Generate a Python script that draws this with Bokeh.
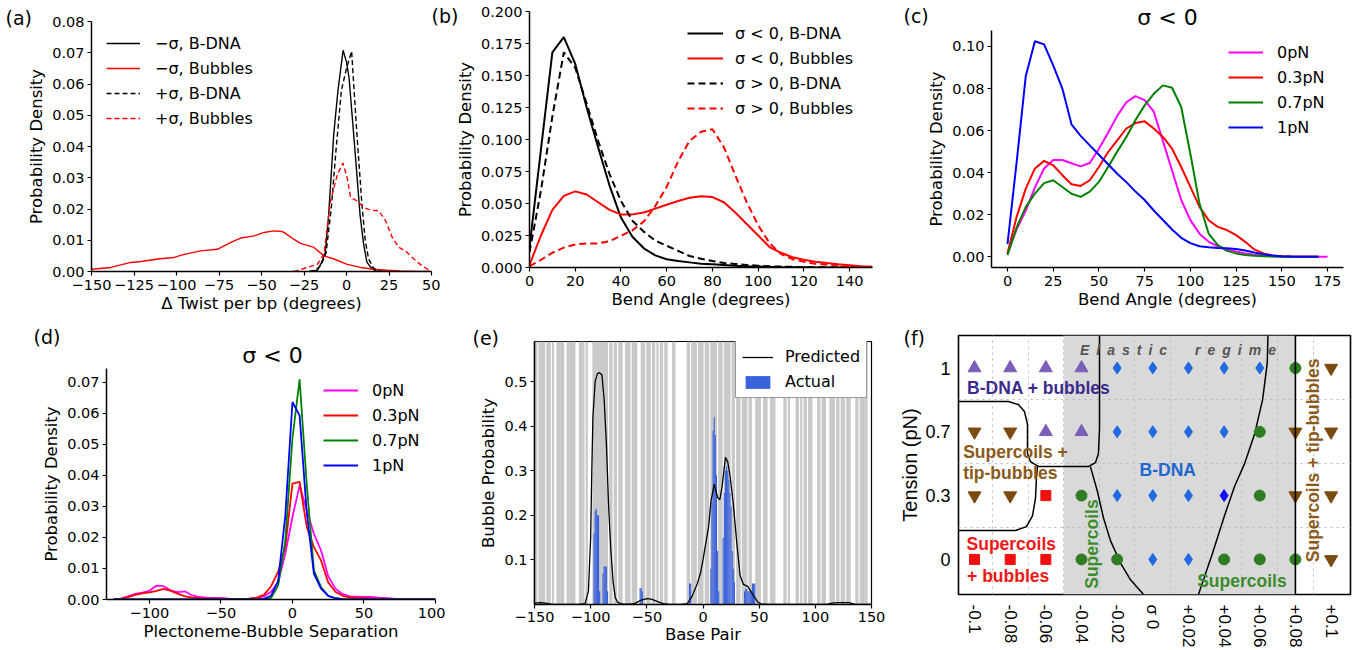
import numpy as np
from bokeh.plotting import figure
from bokeh.models import (Range1d, FixedTicker, Legend, LegendItem, Label,
                          BoxAnnotation, Span)
from bokeh.embed import file_html
from bokeh.resources import INLINE

# ======================= DATA =======================
# (a) Delta twist per bp
a_neg_bdna_x = [-20, -17, -15, -12.5, -10.5, -7.5, -5, -2, 0, 1.5, 4.5, 8, 10, 12, 14, 17, 20]
a_neg_bdna_y = [0, 0.0005, 0.0025, 0.006, 0.018, 0.044, 0.058, 0.0708, 0.067, 0.062, 0.042, 0.018, 0.009, 0.003, 0.0015, 0.0002, 0]
a_pos_bdna_x = [-22, -18, -15, -12, -9, -6, -3, 0, 3, 6, 9, 11, 13, 16, 19, 22]
a_pos_bdna_y = [0, 0.0005, 0.002, 0.006, 0.02, 0.04, 0.058, 0.065, 0.0705, 0.045, 0.022, 0.01, 0.004, 0.001, 0.0002, 0]
a_neg_bub_x = [-150, -138.6, -126.9, -121, -111, -101.4, -95.5, -85.8, -76, -68, -62.2, -54.4, -48.5, -42.7,
               -38, -36.8, -30.9, -27, -19.1, -13.3, -7.4, 0.4, 8.3, 16, 24, 31.8, 40, 50]
a_neg_bub_y = [0.0007, 0.0013, 0.0029, 0.0032, 0.004, 0.0045, 0.0055, 0.0066, 0.0071, 0.0093, 0.0107, 0.0114,
               0.0125, 0.013, 0.0128, 0.0125, 0.0103, 0.009, 0.0077, 0.005, 0.004, 0.0023, 0.0013, 0.0007,
               0.0004, 0.0002, 0.0001, 0.0]
a_pos_bub_x = [-31, -23, -17.2, -13.3, -9.4, -5.4, -2.1, 0.4, 2.4, 6.3, 10.2, 14.2, 19, 23, 26.9, 30.8, 34.7,
               39.6, 44.5, 49.4]
a_pos_bub_y = [0, 0.0013, 0.0023, 0.0055, 0.0226, 0.031, 0.0347, 0.030, 0.0237, 0.0226, 0.0205, 0.0196, 0.0194,
               0.0162, 0.0109, 0.0077, 0.0066, 0.004, 0.0018, 0.0002]
a_xticks = [-150, -125, -100, -75, -50, -25, 0, 25, 50]
a_xlabels = ["\u2212150", "\u2212125", "\u2212100", "\u221275", "\u221250", "\u221225", "0", "25", "50"]
a_yticks = [0, 0.01, 0.02, 0.03, 0.04, 0.05, 0.06, 0.07, 0.08]
a_ylabels = ["0.00", "0.01", "0.02", "0.03", "0.04", "0.05", "0.06", "0.07", "0.08"]
a_legend = ["\u2212\u03c3, B-DNA", "\u2212\u03c3, Bubbles", "+\u03c3, B-DNA", "+\u03c3, Bubbles"]

# (b) bend angle
b_x = [0, 5, 10, 15, 20, 25, 30, 35, 40, 45, 50, 55, 60, 65, 70, 75, 80, 85, 90, 95, 100,
       105, 110, 115, 120, 125, 130, 135, 140, 145, 150]
b_neg_bdna = [0.016, 0.092, 0.168, 0.180, 0.159, 0.125, 0.094, 0.064, 0.039, 0.024, 0.015, 0.0095, 0.0065,
              0.005, 0.004, 0.003, 0.0026, 0.002, 0.0014, 0.001, 0.0008, 0.0005, 0.0003, 0.0002, 0.0001,
              0, 0, 0, 0, 0, 0]
b_neg_bub = [0.002, 0.025, 0.045, 0.056, 0.0595, 0.057, 0.051, 0.045, 0.0415, 0.0415, 0.043, 0.046, 0.049,
             0.052, 0.0545, 0.0556, 0.055, 0.051, 0.043, 0.034, 0.025, 0.016, 0.0115, 0.008, 0.006, 0.0045,
             0.0035, 0.0026, 0.0018, 0.001, 0.0005]
b_pos_bdna = [0.012, 0.06, 0.118, 0.168, 0.156, 0.128, 0.099, 0.073, 0.052, 0.0365, 0.028, 0.021, 0.017,
              0.013, 0.009, 0.0068, 0.005, 0.0036, 0.0028, 0.002, 0.0014, 0.001, 0.0007, 0.0005, 0.0003,
              0.0002, 0.0001, 0, 0, 0, 0]
b_pos_bub = [0.001, 0.006, 0.0115, 0.0155, 0.018, 0.0188, 0.0188, 0.0205, 0.0248, 0.029, 0.036, 0.048, 0.063,
             0.083, 0.099, 0.106, 0.108, 0.094, 0.072, 0.051, 0.033, 0.019, 0.0105, 0.0065, 0.0045, 0.003,
             0.0022, 0.0015, 0.001, 0.0005, 0.0002]
b_xticks = [0, 20, 40, 60, 80, 100, 120, 140]
b_xlabels = ["0", "20", "40", "60", "80", "100", "120", "140"]
b_yticks = [0, 0.025, 0.05, 0.075, 0.1, 0.125, 0.15, 0.175, 0.2]
b_ylabels = ["0.000", "0.025", "0.050", "0.075", "0.100", "0.125", "0.150", "0.175", "0.200"]
b_legend = ["\u03c3 < 0, B-DNA", "\u03c3 < 0, Bubbles", "\u03c3 > 0, B-DNA", "\u03c3 > 0, Bubbles"]

# (c) bend angle vs tension, sigma < 0
c_x = [0, 5, 10, 15, 20, 25, 30, 35, 40, 45, 50, 55, 60, 65, 70, 75, 80, 85, 90, 95, 100, 105, 110,
       115, 120, 125, 130, 135, 140, 145, 150, 155, 160, 165, 170]
c_x_0pN = [0, 5, 10, 15, 20, 25, 30, 35, 40, 45, 50, 55, 60, 65, 70, 75, 80, 85, 90, 95, 100, 105, 110,
           115, 120, 125, 130, 135, 140, 145, 150, 155, 160, 165, 170, 175]
c_0pN = [0.0016, 0.013, 0.022, 0.033, 0.042, 0.046, 0.046, 0.0445, 0.043, 0.0446, 0.0514, 0.059, 0.067,
         0.0735, 0.0764, 0.0745, 0.069, 0.055, 0.041, 0.027, 0.0174, 0.011, 0.0071, 0.005, 0.0035, 0.0025,
         0.0016, 0.001, 0.0006, 0.0003, 0.0001, 0, 0, 0, 0, 0]
c_03pN = [0.0016, 0.019, 0.0324, 0.042, 0.0456, 0.0435, 0.0388, 0.0345, 0.0337, 0.0364, 0.0427, 0.0498,
          0.0554, 0.061, 0.0636, 0.0644, 0.061, 0.057, 0.0514, 0.0427, 0.0332, 0.0237, 0.0174, 0.0142,
          0.0127, 0.0103, 0.0071, 0.0035, 0.0016, 0.0006, 0.0003, 0.0001, 0, 0, 0]
c_07pN = [0.0008, 0.014, 0.0237, 0.030, 0.035, 0.0364, 0.0332, 0.030, 0.0285, 0.031, 0.0356, 0.0427, 0.050,
          0.057, 0.065, 0.072, 0.0775, 0.0815, 0.0804, 0.0712, 0.049, 0.0253, 0.011, 0.0055, 0.0028, 0.0016,
          0.0008, 0.0005, 0.0003, 0.0001, 0, 0, 0, 0, 0]
c_1pN = [0.006, 0.045, 0.086, 0.1025, 0.101, 0.091, 0.08, 0.063, 0.0575, 0.053, 0.0485, 0.044, 0.0395,
         0.0355, 0.031, 0.027, 0.022, 0.0175, 0.013, 0.009, 0.0065, 0.005, 0.0045, 0.0042, 0.004, 0.0037,
         0.003, 0.002, 0.0012, 0.0006, 0.0003, 0.0001, 0, 0, 0]
c_xticks = [0, 25, 50, 75, 100, 125, 150, 175]
c_xlabels = ["0", "25", "50", "75", "100", "125", "150", "175"]
c_yticks = [0, 0.02, 0.04, 0.06, 0.08, 0.1]
c_ylabels = ["0.00", "0.02", "0.04", "0.06", "0.08", "0.10"]
force_legend = ["0pN", "0.3pN", "0.7pN", "1pN"]

# (d) plectoneme-bubble separation
d_x = [-125, -120, -115, -110, -105, -100, -95, -90, -85, -80, -75, -70, -65, -60, -55, -50, -45, -40,
       -35, -30, -25, -20, -15, -10, -5, 0, 5, 10, 15, 20, 25, 30, 35, 40, 45, 50, 55, 60, 65, 70, 75,
       80, 85, 90, 95, 100]
d_0pN = [0, 0.0003, 0.001, 0.0018, 0.0022, 0.0028, 0.0045, 0.0043, 0.0029, 0.0024, 0.0026, 0.0013, 0.0008,
         0.0006, 0.0005, 0.0005, 0.0003, 0.0002, 0.0002, 0.0003, 0.0005, 0.001, 0.0025, 0.0055, 0.0148,
         0.0266, 0.0368, 0.0288, 0.0212, 0.0158, 0.0075, 0.0035, 0.0018, 0.001, 0.0009, 0.0008, 0.0008,
         0.0006, 0.0005, 0.0003, 0.0001, 0, 0, 0, 0, 0]
d_03pN = [0, 0.0002, 0.0008, 0.0015, 0.002, 0.0023, 0.0028, 0.0034, 0.0028, 0.0018, 0.001, 0.0006, 0.0004,
          0.0003, 0.0002, 0.0002, 0.0002, 0.0002, 0.0002, 0.0003, 0.0006, 0.0015, 0.0042, 0.009, 0.017,
          0.0374, 0.0379, 0.0234, 0.0169, 0.0126, 0.0055, 0.0025, 0.0012, 0.0007, 0.0005, 0.0004, 0.0003,
          0.0002, 0.0001, 0, 0, 0, 0, 0, 0, 0]
d_07pN = [0, 0, 0, 0, 0, 0, 0, 0, 0, 0, 0, 0, 0, 0, 0, 0, 0, 0, 0, 0, 0, 0.0001, 0.0005, 0.0045, 0.019,
          0.052, 0.071, 0.037, 0.0094, 0.004, 0.0012, 0.0004, 0.0001, 0, 0, 0, 0, 0, 0, 0, 0, 0, 0, 0, 0, 0]
d_1pN = [0, 0, 0, 0, 0, 0, 0, 0, 0, 0, 0, 0, 0, 0, 0, 0, 0, 0, 0, 0, 0, 0.0002, 0.0012, 0.006, 0.027,
         0.0637, 0.0594, 0.028, 0.0083, 0.0035, 0.0012, 0.0004, 0.0001, 0, 0, 0, 0, 0, 0, 0, 0, 0, 0, 0, 0, 0]
d_xticks = [-100, -50, 0, 50, 100]
d_xlabels = ["\u2212100", "\u221250", "0", "50", "100"]
d_yticks = [0, 0.01, 0.02, 0.03, 0.04, 0.05, 0.06, 0.07]
d_ylabels = ["0.00", "0.01", "0.02", "0.03", "0.04", "0.05", "0.06", "0.07"]

# (e) bubble probability along sequence
e_pred_x = [-150, -145, -140, -135, -130, -110, -105, -102, -100, -99, -98, -96, -94, -92, -90, -88, -86,
            -84, -82, -80, -78, -76, -72, -65, -60, -55, -50, -46, -42, -38, -35, -30, -20, -14, -10, -5,
            -2, 0, 3, 5, 7, 10, 13, 15, 17, 20, 22, 24, 27, 30, 33, 36, 40, 45, 49, 52, 60, 110, 115, 120,
            130, 135, 150]
e_pred_y = [0.003, 0.004, 0.003, 0.001, 0.0, 0.0, 0.002, 0.03, 0.15, 0.3, 0.42, 0.50, 0.518, 0.52, 0.515,
            0.46, 0.36, 0.22, 0.12, 0.05, 0.015, 0.005, 0.001, 0.001, 0.003, 0.01, 0.013, 0.012, 0.008,
            0.004, 0.002, 0.0, 0.0, 0.002, 0.017, 0.047, 0.073, 0.1, 0.145, 0.175, 0.23, 0.27, 0.24,
            0.235, 0.265, 0.33, 0.32, 0.29, 0.225, 0.14, 0.065, 0.045, 0.04, 0.02, 0.005, 0.001, 0.0,
            0.0, 0.003, 0.004, 0.004, 0.001, 0.0]
e_act_x = [-97, -96, -95, -94, -93, -92, -89, -88, -87, -86, -85, -56, -55, -54, -12, -11, 7, 8, 9, 10,
           11, 12, 13, 14, 18, 19, 20, 21, 22, 23, 24, 25, 26, 27, 28, 37, 38, 39, 40, 41, 42, 43, 44,
           45, 46]
e_act_y = [0.16, 0.21, 0.215, 0.20, 0.20, 0.03, 0.07, 0.085, 0.085, 0.085, 0.03, 0.037, 0.037, 0.03,
           0.047, 0.047, 0.08, 0.23, 0.39, 0.42, 0.38, 0.29, 0.12, 0.03, 0.15, 0.25, 0.30, 0.31, 0.30,
           0.28, 0.25, 0.22, 0.12, 0.08, 0.05, 0.03, 0.035, 0.035, 0.03, 0.03, 0.03, 0.03, 0.047, 0.047,
           0.047]
# grey bands (base-pair intervals, inclusive)
e_band_start = [-150, -146, -143, -139, -134, -130, -126, -121, -118, -110, -104, -98, -83, -79, -75,
                -69, -63, -55, -50, -45, -41, -38, -34, -27, -14, -10, -4, 2, 7, 14, 19, 26, 30, 35,
                41, 47, 54, 60, 72, 76, 83, 87, 90, 94, 102, 106, 113, 119, 123, 128, 136, 140, 144]
e_band_end = [-148, -144, -141, -136, -133, -127, -124, -119, -114, -106, -103, -85, -81, -77, -72,
              -65, -59, -52, -47, -43, -40, -36, -32, -25, -12, -6, 0, 5, 12, 17, 24, 28, 33, 39,
              43, 51, 57, 64, 74, 77, 85, 88, 92, 97, 104, 109, 117, 121, 126, 131, 138, 143, 146]
e_xticks = [-150, -100, -50, 0, 50, 100, 150]
e_xlabels = ["\u2212150", "\u2212100", "\u221250", "0", "50", "100", "150"]
e_yticks = [0.1, 0.2, 0.3, 0.4, 0.5]
e_ylabels = ["0.1", "0.2", "0.3", "0.4", "0.5"]

# (f) phase diagram
f_sigma = [-0.1, -0.08, -0.06, -0.04, -0.02, 0.0, 0.02, 0.04, 0.06, 0.08, 0.1]
f_sigma_labels = ["-0.1", "-0.08", "-0.06", "-0.04", "-0.02", "\u03c3  0", "+0.02", "+0.04", "+0.06",
                  "+0.08", "+0.1"]
f_tension_labels = ["0", "0.3", "0.7", "1"]
f_states = [
    ["S", "S", "S", "C", "C", "D", "D", "C", "C", "C", "V"],   # 0 pN
    ["V", "V", "S", "C", "D", "D", "D", "d", "C", "V", "V"],   # 0.3 pN
    ["V", "V", "T", "T", "D", "D", "D", "D", "C", "V", "V"],   # 0.7 pN
    ["T", "T", "T", "T", "D", "D", "D", "D", "D", "C", "V"],   # 1 pN
]
f_elastic = [-0.05, 0.08]
# phase boundaries (sigma, tension-row coordinate)
f_bA_s = [-0.1090, -0.0810, -0.0754, -0.0720, -0.0703, -0.0703, -0.0686, -0.0641, -0.0361, -0.0322,
          -0.0305, -0.0299, -0.0299]
f_bA_t = [2.474, 2.474, 2.427, 2.319, 2.119, 1.656, 1.532, 1.455, 1.455, 1.517, 1.656, 2.042, 3.51]
f_bB_s = [-0.1090, -0.0771, -0.0709, -0.0675, -0.0658, -0.0653, -0.0647]
f_bB_t = [0.452, 0.452, 0.514, 0.684, 0.961, 1.270, 1.455]
f_bC_s = [-0.0350, -0.0311, -0.0277, -0.0238, -0.0181, -0.0125, -0.0052]
f_bC_t = [1.455, 1.069, 0.653, 0.298, -0.057, -0.319, -0.55]
f_bD_s = [0.0646, 0.0642, 0.0616, 0.0571, 0.0515, 0.0459, 0.0402, 0.0335, 0.0256]
f_bD_t = [3.51, 3.076, 2.505, 1.965, 1.502, 1.147, 0.684, 0.097, -0.55]

# ======================= STYLE / HELPERS =======================
FONT = "DejaVu Sans"
ARIAL = "Liberation Sans"


def place(p, left, top):
    p.styles = {"position": "absolute", "left": f"{left}px", "top": f"{top}px"}


def make_fig(w, h, l, r, t, b, xr, yr, box=False):
    p = figure(width=w, height=h, x_range=Range1d(*xr), y_range=Range1d(*yr),
               min_border_left=l, min_border_right=r, min_border_top=t, min_border_bottom=b,
               output_backend="svg", toolbar_location=None, title=None)
    p.xgrid.visible = False
    p.ygrid.visible = False
    p.background_fill_color = "white"
    p.border_fill_alpha = 0.0
    if box:
        p.outline_line_color = "black"
        p.outline_line_width = 1.2
        p.outline_line_alpha = 1.0
    else:
        p.outline_line_color = None
    for ax in (p.xaxis[0], p.yaxis[0]):
        ax.axis_line_color = "black"
        ax.axis_line_width = 1.5
        ax.major_tick_line_color = "black"
        ax.major_tick_line_width = 1.2
        ax.major_tick_out = 4
        ax.major_tick_in = 0
        ax.minor_tick_line_color = None
        ax.major_label_text_font = FONT
        ax.major_label_text_font_size = "14.5px"
        ax.major_label_text_color = "black"
        ax.axis_label_text_font = FONT
        ax.axis_label_text_font_size = "16.5px"
        ax.axis_label_text_font_style = "normal"
        ax.axis_label_text_color = "black"
        ax.major_label_standoff = 3
        ax.axis_label_standoff = 3
    p.xaxis[0].major_label_standoff = 4
    p.xaxis[0].axis_label_standoff = 1
    return p


def set_ticks(ax, ticks, labels):
    ax.ticker = FixedTicker(ticks=ticks, minor_ticks=[])
    ax.major_label_overrides = {t: s for t, s in zip(ticks, labels)}


def add_legend(p, labels, renderers, loc, gw, standoff, gh=20, spacing=5, box=False, padding=0):
    lg = Legend(items=[LegendItem(label=l, renderers=[r]) for l, r in zip(labels, renderers)],
                location=loc, glyph_width=gw, glyph_height=gh, label_height=gh,
                label_standoff=standoff, spacing=spacing, padding=padding, margin=0,
                label_text_font=FONT, label_text_font_size="16px", label_text_color="black")
    if box:
        lg.border_line_color = "#333333"
        lg.border_line_width = 1
        lg.background_fill_color = "white"
        lg.background_fill_alpha = 1.0
    else:
        lg.border_line_color = None
        lg.background_fill_alpha = 0.0
    p.add_layout(lg)


# ======================= (a) =======================  frame 91..431 x 21..271
pa = make_fig(440, 330, 91, 9, 21, 59, (-150, 50), (0, 0.08))
place(pa, 0, 0)
ra1 = pa.line(a_neg_bdna_x, a_neg_bdna_y, line_color="black", line_width=1.4)
ra2 = pa.line(a_neg_bub_x, a_neg_bub_y, line_color="red", line_width=1.4)
ra3 = pa.line(a_pos_bdna_x, a_pos_bdna_y, line_color="black", line_width=1.4, line_dash="5 3")
ra4 = pa.line(a_pos_bub_x, a_pos_bub_y, line_color="red", line_width=1.4, line_dash="5 3")
set_ticks(pa.xaxis[0], a_xticks, a_xlabels)
set_ticks(pa.yaxis[0], a_yticks, a_ylabels)
pa.xaxis.axis_label = "\u0394 Twist per bp (degrees)"
pa.yaxis.axis_label = "Probability Density"
add_legend(pa, a_legend, [ra1, ra2, ra3, ra4], (15, 143), 34, 15)

# ======================= (b) =======================  frame 529..872 x 11..267
pb = make_fig(445, 330, 89, 13, 11, 63, (0, 150), (0, 0.2))
place(pb, 440, 0)
rb1 = pb.line(b_x, b_neg_bdna, line_color="black", line_width=2)
rb2 = pb.line(b_x, b_neg_bub, line_color="red", line_width=2)
rb3 = pb.line(b_x, b_pos_bdna, line_color="black", line_width=2, line_dash="7 4")
rb4 = pb.line(b_x, b_pos_bub, line_color="red", line_width=2, line_dash="7 4")
set_ticks(pb.xaxis[0], b_xticks, b_xlabels)
set_ticks(pb.yaxis[0], b_yticks, b_ylabels)
pb.xaxis.axis_label = "Bend Angle (degrees)"
pb.yaxis.axis_label = "Probability Density"
add_legend(pb, b_legend, [rb1, rb2, rb3, rb4], (158, 149), 36, 12)

# ======================= (c) =======================  frame 991..1343 x 30..267
pc = make_fig(466, 330, 101, 13, 30, 63, (-8.75, 183.75), (-0.0051, 0.1076))
place(pc, 890, 0)
rc1 = pc.line(c_x_0pN, c_0pN, line_color="#ff00ff", line_width=2)
rc2 = pc.line(c_x, c_03pN, line_color="#ff0000", line_width=2)
rc3 = pc.line(c_x, c_07pN, line_color="#008000", line_width=2)
rc4 = pc.line(c_x, c_1pN, line_color="#0000ff", line_width=2)
set_ticks(pc.xaxis[0], c_xticks, c_xlabels)
set_ticks(pc.yaxis[0], c_yticks, c_ylabels)
pc.xaxis.axis_label = "Bend Angle (degrees)"
pc.yaxis.axis_label = "Probability Density"
add_legend(pc, force_legend, [rc1, rc2, rc3, rc4], (237, 130), 35, 14)

# ======================= (d) =======================  frame 106..435 x 368..599
pd_ = make_fig(445, 320, 106, 10, 38, 51, (-130, 100), (0, 0.0745))
place(pd_, 0, 330)
rd1 = pd_.line(d_x, d_0pN, line_color="#ff00ff", line_width=1.8)
rd2 = pd_.line(d_x, d_03pN, line_color="#ff0000", line_width=1.8)
rd3 = pd_.line(d_x, d_07pN, line_color="#008000", line_width=1.8)
rd4 = pd_.line(d_x, d_1pN, line_color="#0000ff", line_width=1.8)
set_ticks(pd_.xaxis[0], d_xticks, d_xlabels)
set_ticks(pd_.yaxis[0], d_yticks, d_ylabels)
pd_.xaxis.axis_label = "Plectoneme-Bubble Separation"
pd_.yaxis.axis_label = "Probability Density"
add_legend(pd_, force_legend, [rd1, rd2, rd3, rd4], (217, 124), 35, 14, spacing=5)

# ======================= (e) =======================  frame 534..871 x 341..604
e_ylim = (0, 0.59)
pe = make_fig(445, 320, 94, 14, 11, 46, (-150, 150), e_ylim, box=True)
place(pe, 440, 330)
pe.xaxis[0].axis_label_standoff = 0
pe.xaxis[0].major_label_standoff = 3
bs = np.array(e_band_start, dtype=float)
be = np.array(e_band_end, dtype=float)
pe.quad(left=bs - 0.5, right=be + 0.5, bottom=e_ylim[0], top=e_ylim[1],
        fill_color="#c9c9c9", line_color=None)
re2 = pe.vbar(x=e_act_x, top=e_act_y, bottom=0, width=1.0, fill_color="#3a62db", line_color=None)
re1 = pe.line(e_pred_x, e_pred_y, line_color="black", line_width=1.3)
set_ticks(pe.xaxis[0], e_xticks, e_xlabels)
set_ticks(pe.yaxis[0], e_yticks, e_ylabels)
pe.xaxis.axis_label = "Base Pair"
pe.yaxis.axis_label = "Bubble Probability"
add_legend(pe, ["Predicted", "Actual"], [re1, re2], (201, 206), 31, 12, gh=16, spacing=6, box=True,
           padding=6)

# ======================= (f) =======================  frame 958..1350 x 335..598
pf = figure(width=466, height=320, x_range=Range1d(-10.9, 11.09), y_range=Range1d(-0.55, 3.51),
            min_border_left=68, min_border_right=6, min_border_top=5, min_border_bottom=52,
            output_backend="svg", toolbar_location=None, title=None)
place(pf, 890, 330)
pf.background_fill_color = "white"
pf.border_fill_alpha = 0.0
pf.outline_line_color = "black"
pf.outline_line_width = 1.6
sig_pct = [100 * s for s in f_sigma]
pf.add_layout(BoxAnnotation(left=100 * f_elastic[0], right=100 * f_elastic[1], fill_color="#d9d9d9",
                            fill_alpha=1.0, line_color=None, level="image"))
pf.xgrid.ticker = FixedTicker(ticks=[(sig_pct[i] + sig_pct[i + 1]) / 2 for i in range(len(sig_pct) - 1)])
pf.ygrid.ticker = FixedTicker(ticks=[0.5, 1.5, 2.5])
for g in (pf.xgrid[0], pf.ygrid[0]):
    g.grid_line_color = "#b8b8b8"
    g.grid_line_dash = "dotted"
    g.grid_line_width = 1
pf.add_layout(Span(location=100 * f_elastic[1], dimension="height", line_color="black", line_width=1.6))
for bx, by in ((f_bA_s, f_bA_t), (f_bB_s, f_bB_t), (f_bC_s, f_bC_t), (f_bD_s, f_bD_t)):
    pf.line([100 * v for v in bx], by, line_color="black", line_width=1.5)

marker_style = {
    "T": ("triangle", "#7b5eb8", 13),
    "V": ("inverted_triangle", "#7a4a0e", 13),
    "D": ("diamond", "#1f6ae0", 12),
    "d": ("diamond", "#1010ee", 12),
    "C": ("circle", "#2f7d23", 11),
    "S": ("square", "#f01010", 10),
}
for code, (mk, col, sz) in marker_style.items():
    xs, ys = [], []
    for ti, states in enumerate(f_states):
        for si, st in enumerate(states):
            if st == code:
                xs.append(sig_pct[si])
                ys.append(ti)
    if xs:
        pf.scatter(xs, ys, marker=mk, size=sz, fill_color=col, line_color=col)

pf.xaxis.ticker = FixedTicker(ticks=sig_pct, minor_ticks=[])
pf.xaxis.major_label_overrides = {t: s for t, s in zip(sig_pct, f_sigma_labels)}
pf.xaxis.major_label_orientation = "vertical"
pf.yaxis.ticker = FixedTicker(ticks=[0, 1, 2, 3], minor_ticks=[])
pf.yaxis.major_label_overrides = {i: s for i, s in enumerate(f_tension_labels)}
pf.yaxis.axis_label = "Tension (pN)"
for ax in (pf.xaxis[0], pf.yaxis[0]):
    ax.axis_line_color = None
    ax.major_tick_line_color = None
    ax.minor_tick_line_color = None
    ax.major_label_text_font = ARIAL
    ax.major_label_text_color = "black"
    ax.axis_label_text_font = ARIAL
    ax.axis_label_text_font_style = "normal"
    ax.axis_label_text_color = "black"
    ax.axis_label_text_font_size = "20px"
    ax.major_label_standoff = 2
    ax.axis_label_standoff = 1
pf.xaxis.major_label_standoff = 4
pf.xaxis.major_label_text_font_size = "17px"
pf.yaxis.major_label_text_font_size = "18px"


def ftext(text, x, y, color, size="17.5px", align="left", angle=0.0, style="bold"):
    pf.add_layout(Label(x=x, y=y, text=text, text_font=ARIAL, text_font_size=size, text_color=color,
                        text_font_style=style, text_align=align, text_baseline="middle", angle=angle))


ftext("E\u2002l\u2002a\u2002s\u2002t\u2002i\u2002c\u2003\u2003r\u2002e\u2002g\u2002i\u2002m\u2002e",
      1.41, 3.276, "#555555", size="14px", align="center", style="bold italic")
ftext("B-DNA + bubbles", -10.42, 2.685, "#3c2b8c", size="17.5px")
ftext("Supercoils +", -10.64, 1.682, "#8b5a1a")
ftext("tip-bubbles", -10.64, 1.347, "#8b5a1a")
ftext("B-DNA", 0.84, 1.409, "#2166d1", align="center")
ftext("Supercoils", -3.40, 0.241, "#3c8c2e", align="center", angle=np.pi / 2)
ftext("Supercoils", -10.45, 0.241, "#f01818")
ftext("+ bubbles", -10.42, -0.262, "#f01818")
ftext("Supercoils", 2.49, -0.335, "#3c8c2e")
ftext("Supercoils + tip-bubbles", 9.0, 1.553, "#8b5a1a", align="center", angle=np.pi / 2)

# ======================= overlay for panel letters and titles =======================
ov = figure(width=1356, height=650, x_range=Range1d(0, 1356), y_range=Range1d(650, 0),
            min_border_left=0, min_border_right=0, min_border_top=0, min_border_bottom=0,
            x_axis_location=None, y_axis_location=None,
            output_backend="svg", toolbar_location=None, title=None)
place(ov, 0, 0)
ov.xgrid.visible = False
ov.ygrid.visible = False
ov.outline_line_color = None
ov.background_fill_alpha = 0.0
ov.border_fill_alpha = 0.0


def otext(text, x, y, size="19px", align="left"):
    ov.add_layout(Label(x=x, y=y, text=text, text_font=FONT, text_font_size=size, text_color="black",
                        text_align=align, text_baseline="middle"))


otext("(a)", 5, 17)
otext("(b)", 431, 15)
otext("(c)", 903, 15)
otext("(d)", 33, 336)
otext("(e)", 472, 337)
otext("(f)", 903, 337)
otext("\u03c3 < 0", 1167, 17, size="22px", align="center")
otext("\u03c3 < 0", 272, 355, size="22px", align="center")

with open("out.html", "w") as fh:
    fh.write(file_html([pa, pb, pc, pd_, pe, pf, ov], INLINE))
